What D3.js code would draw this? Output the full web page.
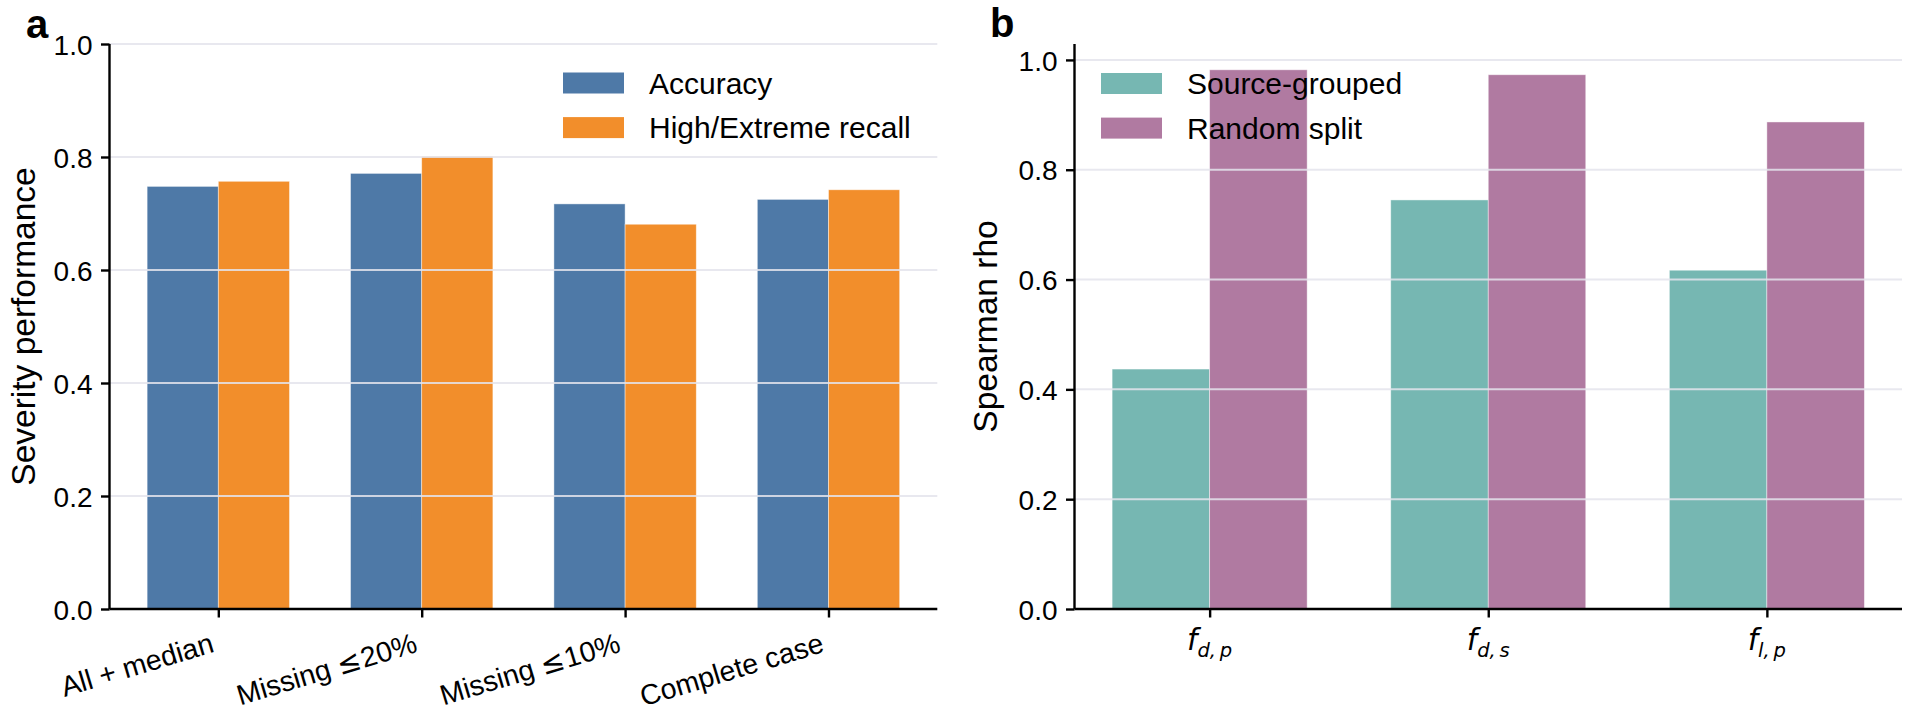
<!DOCTYPE html>
<html>
<head>
<meta charset="utf-8">
<script src="https://cdn.jsdelivr.net/npm/d3@7"></script>
<style>
  html, body { margin: 0; padding: 0; background: #fff; }
  svg { display: block; }
  text { font-family: "Liberation Sans", Arial, sans-serif; fill: #000; white-space: pre; }
</style>
</head>
<body>
<svg id="chart" width="1911" height="722"></svg>
<script>
// ---------- data ----------
const catsA = [["All + median", "", ""], ["Missing ", "\u2264", "20%"], ["Missing ", "\u2264", "10%"], ["Complete case", "", ""]];
const accuracy = [0.748, 0.771, 0.717, 0.725];
const highRecall = [0.757, 0.801, 0.681, 0.742];
const seriesA = ["Accuracy", "High/Extreme recall"];

const catsB = [["d", "p"], ["d", "s"], ["l", "p"]];
const sourceGrouped = [0.437, 0.745, 0.617];
const randomSplit = [0.982, 0.973, 0.887];
const seriesB = ["Source-grouped", "Random split"];

const yTicks = [0.0, 0.2, 0.4, 0.6, 0.8, 1.0];

// ---------- styles ----------
const colA = ["#4e79a7", "#f28e2b"];
const colB = ["#76b7b2", "#b07aa1"];
const svg = d3.select("#chart");
const TOP = 44, BOT = 609;
const tickLen = 8.5, axisW = 2.4;
const gridCol = "#e4e4ec";
const barW = 0.35;

function panel(opts) {
  const g = svg.append("g");
  const x = d3.scaleLinear().domain(opts.xdom).range(opts.xrange);
  const y = d3.scaleLinear().domain([0, opts.ymax]).range([BOT, TOP]);
  const x0 = opts.xrange[0], x1 = opts.xrange[1];

  // bars
  opts.series.forEach((vals, s) => {
    g.append("g").selectAll("rect").data(vals).join("rect")
      .attr("x", (d, i) => x(i - barW + s * barW))
      .attr("width", (d, i) => x(i + s * barW) - x(i - barW + s * barW))
      .attr("y", d => y(d))
      .attr("height", d => y(0) - y(d))
      .attr("fill", opts.colors[s])
      .attr("stroke", "#ffffff").attr("stroke-width", 0.8).attr("stroke-opacity", 0.55);
  });

  // gridlines (drawn over bars)
  g.append("g").selectAll("line").data(yTicks.filter(t => t > 0)).join("line")
    .attr("x1", x0).attr("x2", x1)
    .attr("y1", d => y(d)).attr("y2", d => y(d))
    .attr("stroke", gridCol).attr("stroke-width", 2).attr("stroke-opacity", 0.85);

  // y axis
  const yAxis = d3.axisLeft(y).tickValues(yTicks).tickFormat(d3.format(".1f"))
    .tickSize(tickLen).tickPadding(8.5);
  const ya = g.append("g").attr("transform", `translate(${x0},0)`).call(yAxis);
  ya.select(".domain").attr("stroke", "#000").attr("stroke-width", axisW)
    .attr("d", `M0,${y(0)}V${y(opts.ymax)}`);
  ya.selectAll(".tick line").attr("stroke", "#000").attr("stroke-width", axisW);
  ya.selectAll(".tick text").attr("font-size", 28).attr("font-family", "Liberation Sans, Arial, sans-serif")
    .attr("fill", "#000").attr("dy", "0.36em");

  // x axis
  const xAxis = d3.axisBottom(x).tickValues(d3.range(opts.ncat)).tickFormat("").tickSize(tickLen);
  const xa = g.append("g").attr("transform", `translate(0,${BOT})`).call(xAxis);
  xa.select(".domain").attr("stroke", "#000").attr("stroke-width", axisW)
    .attr("d", `M${x0},0H${x1}`);
  xa.selectAll(".tick line").attr("stroke", "#000").attr("stroke-width", axisW);

  // y label
  g.append("text")
    .attr("transform", `translate(${opts.ylabX},${(TOP + BOT) / 2}) rotate(-90)`)
    .attr("text-anchor", "middle").attr("font-size", 33.5).text(opts.ylabel);

  // panel letter
  g.append("text").attr("x", opts.letterX).attr("y", opts.letterY)
    .attr("font-size", 40).attr("font-weight", "bold").text(opts.letter);

  // legend
  opts.legend.forEach((name, s) => {
    const cy = opts.legY + s * 44.6;
    g.append("rect").attr("x", opts.legX).attr("y", cy - 10.5)
      .attr("width", 61).attr("height", 21).attr("fill", opts.colors[s]);
    g.append("text").attr("x", opts.legX + 86).attr("y", cy + 10.6)
      .attr("font-size", 30).text(name);
  });
  return { g, x, y };
}

// ---------- panel a ----------
const pa = panel({
  xdom: [-0.535, catsA.length - 1 + 0.535], xrange: [109.5, 937.3], ymax: 1.0,
  ncat: catsA.length, series: [accuracy, highRecall], colors: colA,
  ylabel: "Severity performance", ylabX: 35, letter: "a", letterX: 26, letterY: 38,
  legend: seriesA, legX: 563, legY: 83
});
const la = pa.g.append("g").selectAll("text").data(catsA).join("text")
  .attr("transform", (d, i) => `translate(${pa.x(i) - 3},${BOT + 42.5}) rotate(-16.8)`)
  .attr("text-anchor", "end").attr("font-size", 28.5);
la.append("tspan").text(d => d[0]);
la.append("tspan").style("font-family", "'DejaVu Sans', sans-serif").text(d => d[1]);
la.append("tspan").attr("dx", d => d[2] ? 1 : 0).text(d => d[2]);

// ---------- panel b ----------
const pb = panel({
  xdom: [-0.485, catsB.length - 1 + 0.485], xrange: [1074.5, 1902], ymax: 1.029,
  ncat: catsB.length, series: [sourceGrouped, randomSplit], colors: colB,
  ylabel: "Spearman rho", ylabX: 997, letter: "b", letterX: 990, letterY: 37,
  legend: seriesB, legX: 1101, legY: 83.5
});
const lb = pb.g.append("g").selectAll("text").data(catsB).join("text")
  .attr("x", (d, i) => pb.x(i)).attr("y", BOT + 41)
  .attr("text-anchor", "middle")
  .style("font-family", "'DejaVu Sans', sans-serif").style("font-style", "italic");
lb.append("tspan").attr("font-size", 29.5).text("f");
lb.append("tspan").attr("font-size", 19.5).attr("dy", 7).text(d => d[0] + ",\u2009" + d[1]);
</script>
</body>
</html>
